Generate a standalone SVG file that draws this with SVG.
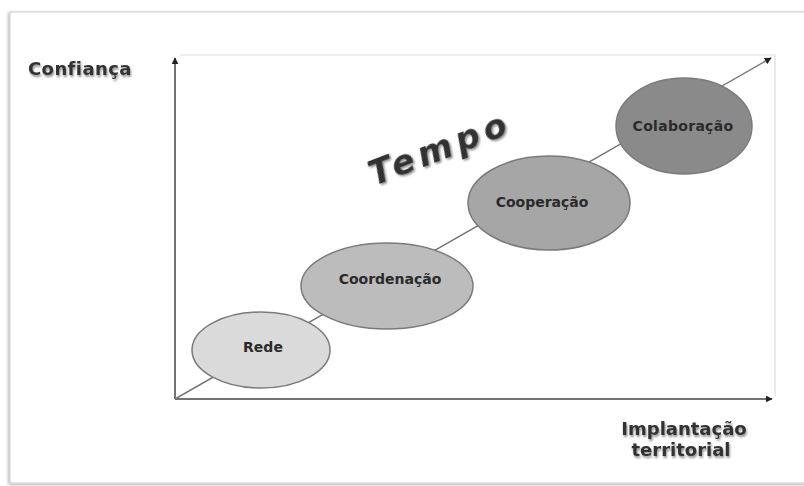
<svg xmlns="http://www.w3.org/2000/svg" width="804" height="486" viewBox="0 0 804 486">
<style>
.lbl{font-family:"DejaVu Sans",Verdana,sans-serif;font-weight:bold;fill:#333;filter:url(#sh)}
.node{font-family:"DejaVu Sans",Verdana,sans-serif;font-weight:bold;font-size:14px;fill:#2a2a2a;text-anchor:middle}
.ell{stroke:#7a7a7a;stroke-width:1.5}
.axis{stroke:#444;stroke-width:1.5;fill:none}
.guide{stroke:#dcdcdc;stroke-width:1.2;fill:none}
</style>
<defs>
<filter id="sh" x="-20%" y="-40%" width="140%" height="180%">
<feGaussianBlur in="SourceAlpha" stdDeviation="1.2"/>
<feOffset dx="1" dy="1.5" result="b"/>
<feComponentTransfer><feFuncA type="linear" slope="0.45"/></feComponentTransfer>
<feMerge><feMergeNode/><feMergeNode in="SourceGraphic"/></feMerge>
</filter>
<filter id="fs" x="-5%" y="-5%" width="110%" height="110%">
<feGaussianBlur in="SourceAlpha" stdDeviation="1.5"/>
<feOffset dx="-1" dy="1"/>
<feComponentTransfer><feFuncA type="linear" slope="0.35"/></feComponentTransfer>
<feMerge><feMergeNode/><feMergeNode in="SourceGraphic"/></feMerge>
</filter>
<marker id="ah" viewBox="0 0 10 10" refX="9" refY="5" markerWidth="7" markerHeight="7" orient="auto" markerUnits="userSpaceOnUse">
<path d="M0,0 L10,5 L0,10 z" fill="#222"/>
</marker>
</defs>
<rect width="804" height="486" fill="#fff"/>
<rect id="frame" x="10" y="12" width="800" height="471" fill="#fff" stroke="#d4d4d4" stroke-width="1.2" filter="url(#fs)"/>
<g id="guides">
<path class="guide" d="M180,55 H775 V396"/>
</g>
<g id="connectors">
<line class="axis" x1="175" y1="399" x2="175" y2="58" marker-end="url(#ah)"/>
<line class="axis" x1="175" y1="399" x2="772" y2="399" marker-end="url(#ah)"/>
<line x1="175" y1="399" x2="771" y2="58" stroke="#777" stroke-width="1.5" marker-end="url(#ah)"/>
</g>
<g id="rede">
<ellipse class="ell" cx="261" cy="350" rx="69" ry="38" fill="#dadada"/>
<text class="node" x="263" y="352">Rede</text>
</g>
<g id="coordenacao">
<ellipse class="ell" cx="387" cy="286" rx="86" ry="43" fill="#bcbcbc"/>
<text class="node" x="390" y="284">Coordenação</text>
</g>
<g id="cooperacao">
<ellipse class="ell" cx="549" cy="203" rx="81" ry="47" fill="#a6a6a6"/>
<text class="node" x="542" y="207">Cooperação</text>
</g>
<g id="colaboracao">
<ellipse class="ell" cx="684" cy="126" rx="68" ry="48" fill="#8a8a8a"/>
<text class="node" x="683" y="131" letter-spacing="0.3">Colaboração</text>
</g>
<g id="labels">
<text class="lbl" x="28" y="75" font-size="18" letter-spacing="0.4">Confiança</text>
<text class="lbl" x="684" y="435" font-size="18" text-anchor="middle">Implantação</text>
<text class="lbl" x="681" y="456" font-size="18" text-anchor="middle">territorial</text>
<text class="lbl" x="374" y="186" font-size="34" font-style="italic" letter-spacing="5" fill="#111" transform="rotate(-21 374 186)">Tempo</text>
</g>
</svg>
